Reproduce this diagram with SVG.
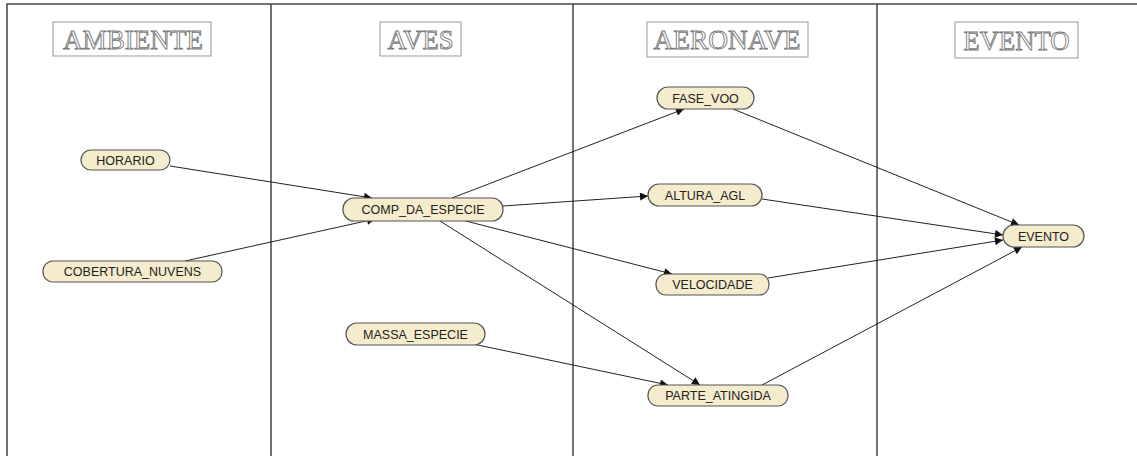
<svg xmlns="http://www.w3.org/2000/svg" width="1137" height="456" viewBox="0 0 1137 456">
<style>
.lane{stroke:#444;stroke-width:1.5;fill:none}
.hdrbox{fill:#fff;stroke:#999;stroke-width:1}
.hdr{font-family:"Liberation Serif",serif;font-size:27px;fill:#fff;stroke:#777;stroke-width:0.9;text-anchor:middle}
.node rect{fill:#f5ebcd;stroke:#555;stroke-width:1.2}
.node text{font-family:"Liberation Sans",Arial,sans-serif;font-size:12.5px;fill:#222;text-anchor:middle}
.edge{stroke:#222;stroke-width:1;fill:none;marker-end:url(#arr)}
</style>
<defs>
<marker id="arr" viewBox="0 0 10 10" refX="10" refY="5" markerWidth="10" markerHeight="8" markerUnits="userSpaceOnUse" orient="auto">
<path d="M0,0 L10,5 L0,10 z" fill="#111"/>
</marker>
</defs>
<rect width="1137" height="456" fill="#fff"/>
<g id="lanes">
<path class="lane" d="M7,456 V4 H1137"/>
<line class="lane" x1="271" y1="4" x2="271" y2="456"/>
<line class="lane" x1="573" y1="4" x2="573" y2="456"/>
<line class="lane" x1="877" y1="4" x2="877" y2="456"/>
</g>
<g id="headers">
<rect class="hdrbox" x="53" y="22" width="158" height="34"/>
<text class="hdr" x="133" y="49" textLength="140" lengthAdjust="spacingAndGlyphs">AMBIENTE</text>
<rect class="hdrbox" x="380" y="22" width="81" height="34"/>
<text class="hdr" x="420.5" y="49" textLength="66" lengthAdjust="spacingAndGlyphs">AVES</text>
<rect class="hdrbox" x="647" y="22" width="161" height="35"/>
<text class="hdr" x="727" y="49" textLength="147" lengthAdjust="spacingAndGlyphs">AERONAVE</text>
<rect class="hdrbox" x="955" y="22" width="123" height="36"/>
<text class="hdr" x="1016.5" y="50" textLength="106" lengthAdjust="spacingAndGlyphs">EVENTO</text>
</g>
<g id="connectors">
<line class="edge" x1="170" y1="166" x2="372" y2="198"/>
<line class="edge" x1="185" y1="261" x2="375" y2="219"/>
<line class="edge" x1="452" y1="198" x2="684" y2="109"/>
<line class="edge" x1="503" y1="206" x2="648" y2="196"/>
<line class="edge" x1="462" y1="220" x2="672" y2="274"/>
<line class="edge" x1="440" y1="221" x2="700" y2="385"/>
<line class="edge" x1="473" y1="344" x2="668" y2="385"/>
<line class="edge" x1="733" y1="109" x2="1019" y2="225"/>
<line class="edge" x1="762" y1="199" x2="1003" y2="235"/>
<line class="edge" x1="768" y1="278" x2="1003" y2="240"/>
<line class="edge" x1="762" y1="385" x2="1022" y2="247"/>
</g>
<g id="HORARIO" class="node"><rect x="81" y="150" width="89" height="20" rx="10"/><text x="125.5" y="164.5">HORARIO</text></g>
<g id="COBERTURA_NUVENS" class="node"><rect x="43" y="261" width="179" height="21" rx="10"/><text x="132.5" y="276">COBERTURA_NUVENS</text></g>
<g id="COMP_DA_ESPECIE" class="node"><rect x="343" y="198" width="160" height="23" rx="11"/><text x="423" y="214">COMP_DA_ESPECIE</text></g>
<g id="MASSA_ESPECIE" class="node"><rect x="346" y="323" width="139" height="22" rx="11"/><text x="415.5" y="338.5">MASSA_ESPECIE</text></g>
<g id="FASE_VOO" class="node"><rect x="657" y="87" width="97" height="22" rx="11"/><text x="705.5" y="102.5">FASE_VOO</text></g>
<g id="ALTURA_AGL" class="node"><rect x="648" y="184" width="114" height="22" rx="11"/><text x="705" y="199.5">ALTURA_AGL</text></g>
<g id="VELOCIDADE" class="node"><rect x="656" y="274" width="113" height="21" rx="10"/><text x="712.5" y="289">VELOCIDADE</text></g>
<g id="PARTE_ATINGIDA" class="node"><rect x="648" y="385" width="140" height="21" rx="10"/><text x="718" y="400">PARTE_ATINGIDA</text></g>
<g id="EVENTO" class="node"><rect x="1003" y="225" width="81" height="22" rx="11"/><text x="1043.5" y="240.5">EVENTO</text></g>
</svg>
